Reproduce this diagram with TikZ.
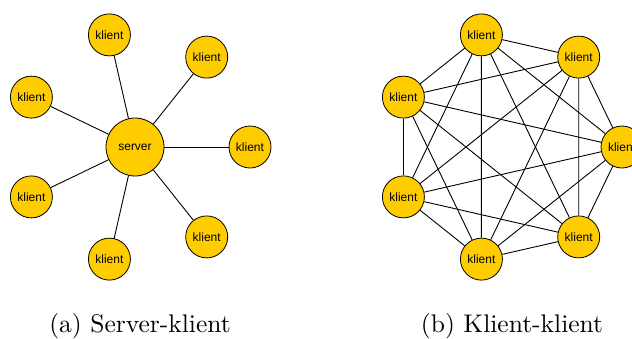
\documentclass[tikz,border=0pt]{standalone}
\usepackage{fontspec}
\usetikzlibrary{calc}
\newfontfamily\nodefont{Liberation Sans}
\newfontfamily\capfont{lmroman10-regular.otf}
\definecolor{nodefill}{HTML}{FFCC00}
\tikzset{
  peer/.style={circle, draw=black, line width=0.8pt, fill=nodefill,
    minimum size=42pt, inner sep=0pt, font=\nodefont\fontsize{12}{14}\selectfont},
  hub/.style={peer, minimum size=58pt},
  link/.style={draw=black, line width=0.9pt},
  caption/.style={anchor=base, inner sep=0pt, font=\capfont\fontsize{25.5}{30}\selectfont}
}
\begin{document}
\begin{tikzpicture}[x=1pt, y=-1pt]
  \useasboundingbox (0,0) rectangle (632,338);
  % (a) star: one server, seven clients
  \node[hub] (srv) at (135,147) {server};
  \foreach \i in {0,...,6} {
    \node[peer] (a\i) at ($(135,147)+({\i*360/7}:115)$) {klient};
    \draw[link] (srv) -- (a\i);
  }
  % (b) full mesh between seven clients
  \foreach \i in {0,...,6} {
    \node[peer] (b\i) at ($(507,147)+({\i*360/7}:115)$) {klient};
  }
  \foreach \i in {0,...,5} {
    \pgfmathtruncatemacro{\first}{\i+1}
    \foreach \j in {\first,...,6} {
      \draw[link] (b\i) -- (b\j);
    }
  }
  \node[caption] (capa) at (140,332) {(a) Server-klient};
  \node[caption] (capb) at (512,332) {(b) Klient-klient};
\end{tikzpicture}
\end{document}
